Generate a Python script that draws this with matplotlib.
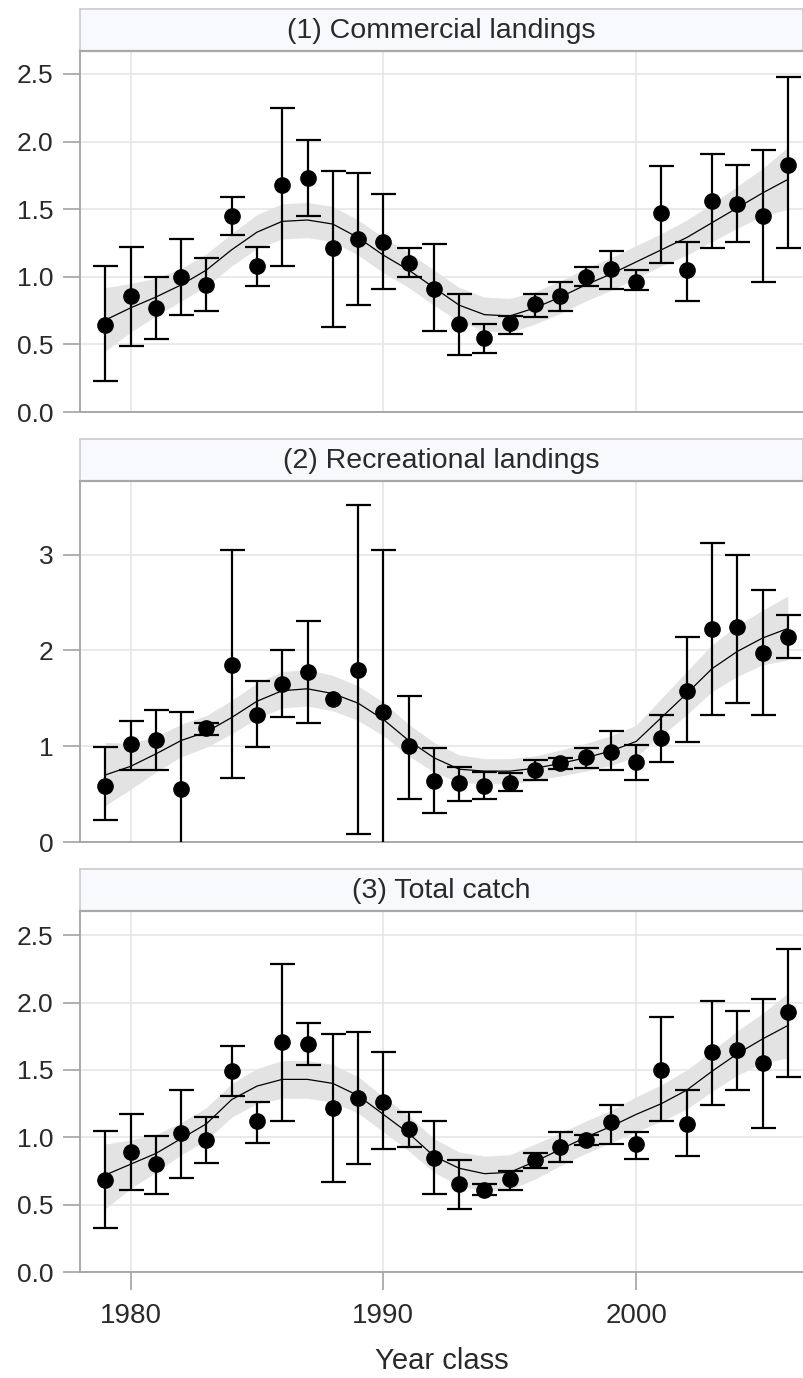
import numpy as np
import matplotlib
matplotlib.use("Agg")
import matplotlib.pyplot as plt

plt.rcParams['font.family'] = ['Liberation Sans', 'DejaVu Sans']

years = list(range(1979, 2007))
xticks = [1980, 1990, 2000]
titles = ["(1) Commercial landings", "(2) Recreational landings", "(3) Total catch"]
x_label = "Year class"

# Panel 1: commercial landings
est1 = [0.64, 0.86, 0.77, 1.00, 0.94, 1.45, 1.08, 1.68, 1.73, 1.21, 1.28, 1.26, 1.10, 0.91,
        0.65, 0.55, 0.66, 0.80, 0.86, 1.00, 1.06, 0.96, 1.47, 1.05, 1.56, 1.54, 1.45, 1.83]
lo1 = [0.23, 0.49, 0.54, 0.72, 0.75, 1.31, 0.93, 1.08, 1.45, 0.63, 0.79, 0.91, 1.00, 0.60,
       0.42, 0.44, 0.58, 0.70, 0.75, 0.93, 0.91, 0.90, 1.10, 0.82, 1.21, 1.26, 0.96, 1.21]
hi1 = [1.08, 1.22, 1.00, 1.28, 1.14, 1.59, 1.22, 2.25, 2.01, 1.78, 1.77, 1.61, 1.21, 1.24,
       0.87, 0.65, 0.71, 0.87, 0.96, 1.07, 1.19, 1.05, 1.82, 1.26, 1.91, 1.83, 1.94, 2.48]
fit1 = [0.68, 0.77, 0.85, 0.94, 1.05, 1.20, 1.33, 1.41, 1.42, 1.39, 1.29, 1.16, 1.05, 0.92,
        0.79, 0.72, 0.71, 0.77, 0.85, 0.94, 1.02, 1.11, 1.20, 1.29, 1.40, 1.51, 1.62, 1.72]
band1_lo = [0.45, 0.59, 0.71, 0.82, 0.93, 1.08, 1.21, 1.28, 1.29, 1.26, 1.16, 1.03, 0.92, 0.79,
            0.67, 0.60, 0.59, 0.65, 0.73, 0.82, 0.90, 0.99, 1.08, 1.16, 1.26, 1.36, 1.45, 1.50]
band1_hi = [0.92, 0.95, 0.99, 1.06, 1.17, 1.32, 1.46, 1.54, 1.55, 1.52, 1.42, 1.29, 1.18, 1.05,
            0.92, 0.85, 0.84, 0.89, 0.97, 1.06, 1.14, 1.23, 1.32, 1.42, 1.54, 1.67, 1.80, 1.96]

# Panel 2: recreational landings
est2 = [0.59, 1.02, 1.06, 0.55, 1.19, 1.85, 1.33, 1.65, 1.78, 1.49, 1.80, 1.36, 1.00, 0.64,
        0.62, 0.59, 0.62, 0.75, 0.82, 0.89, 0.94, 0.84, 1.09, 1.58, 2.22, 2.25, 1.97, 2.14]
lo2 = [0.23, 0.75, 0.75, -0.25, 1.12, 0.67, 0.99, 1.31, 1.24, np.nan, 0.08, -0.35, 0.45, 0.30,
       0.43, 0.45, 0.53, 0.65, 0.76, 0.77, 0.75, 0.65, 0.84, 1.04, 1.33, 1.45, 1.33, 1.92]
hi2 = [0.99, 1.26, 1.38, 1.36, 1.24, 3.05, 1.68, 2.00, 2.31, np.nan, 3.52, 3.05, 1.52, 0.98,
       0.78, 0.73, 0.72, 0.86, 0.88, 0.98, 1.16, 1.01, 1.33, 2.14, 3.12, 3.00, 2.63, 2.37]
fit2 = [0.70, 0.79, 0.92, 1.06, 1.15, 1.30, 1.47, 1.58, 1.60, 1.55, 1.45, 1.28, 1.06, 0.88,
        0.76, 0.74, 0.74, 0.77, 0.82, 0.88, 0.95, 1.05, 1.30, 1.55, 1.81, 1.99, 2.13, 2.23]
band2_lo = [0.38, 0.55, 0.73, 0.89, 0.99, 1.13, 1.29, 1.40, 1.42, 1.37, 1.27, 1.11, 0.90, 0.73,
            0.62, 0.61, 0.61, 0.64, 0.69, 0.74, 0.80, 0.89, 1.11, 1.33, 1.57, 1.73, 1.85, 1.90]
band2_hi = [1.04, 1.03, 1.10, 1.23, 1.32, 1.48, 1.66, 1.78, 1.80, 1.74, 1.63, 1.46, 1.23, 1.04,
            0.91, 0.87, 0.87, 0.90, 0.96, 1.03, 1.11, 1.22, 1.50, 1.78, 2.06, 2.26, 2.42, 2.57]

# Panel 3: total catch
est3 = [0.68, 0.89, 0.80, 1.03, 0.98, 1.49, 1.12, 1.71, 1.69, 1.22, 1.29, 1.26, 1.06, 0.85,
        0.65, 0.61, 0.69, 0.83, 0.93, 0.98, 1.11, 0.95, 1.50, 1.10, 1.63, 1.65, 1.55, 1.93]
lo3 = [0.33, 0.61, 0.58, 0.70, 0.81, 1.31, 0.96, 1.12, 1.54, 0.67, 0.80, 0.91, 0.93, 0.58,
       0.47, 0.57, 0.61, 0.77, 0.82, 0.94, 0.95, 0.84, 1.12, 0.86, 1.24, 1.35, 1.07, 1.45]
hi3 = [1.05, 1.17, 1.01, 1.35, 1.15, 1.68, 1.26, 2.29, 1.85, 1.77, 1.78, 1.63, 1.19, 1.12,
       0.83, 0.65, 0.75, 0.88, 1.04, 1.02, 1.24, 1.04, 1.89, 1.35, 2.01, 1.94, 2.03, 2.40]
fit3 = [0.72, 0.80, 0.88, 0.99, 1.10, 1.28, 1.38, 1.43, 1.43, 1.40, 1.31, 1.17, 1.03, 0.86,
        0.77, 0.73, 0.74, 0.82, 0.91, 1.00, 1.08, 1.17, 1.25, 1.35, 1.49, 1.62, 1.73, 1.83]
band3_lo = [0.47, 0.62, 0.74, 0.87, 0.98, 1.15, 1.25, 1.29, 1.29, 1.26, 1.18, 1.04, 0.90, 0.74,
            0.64, 0.60, 0.61, 0.69, 0.79, 0.88, 0.96, 1.04, 1.12, 1.21, 1.34, 1.46, 1.55, 1.59]
band3_hi = [0.95, 0.98, 1.02, 1.11, 1.22, 1.40, 1.51, 1.57, 1.57, 1.54, 1.45, 1.30, 1.16, 0.99,
            0.89, 0.86, 0.87, 0.95, 1.03, 1.12, 1.20, 1.30, 1.39, 1.50, 1.64, 1.79, 1.92, 2.07]

panels = [
    dict(est=est1, lo=lo1, hi=hi1, fit=fit1, blo=band1_lo, bhi=band1_hi,
         ylim=(0, 2.67), yticks=[0.0, 0.5, 1.0, 1.5, 2.0, 2.5], fmt="{:.1f}"),
    dict(est=est2, lo=lo2, hi=hi2, fit=fit2, blo=band2_lo, bhi=band2_hi,
         ylim=(0, 3.77), yticks=[0, 1, 2, 3], fmt="{:.0f}"),
    dict(est=est3, lo=lo3, hi=hi3, fit=fit3, blo=band3_lo, bhi=band3_hi,
         ylim=(0, 2.68), yticks=[0.0, 0.5, 1.0, 1.5, 2.0, 2.5], fmt="{:.1f}"),
]

W, H = 804, 1378
fig = plt.figure(figsize=(W / 100, H / 100), dpi=100)
fig.patch.set_facecolor('white')

# pixel layout: (strip top, axes top, axes bottom)
layout = [(9, 51, 412), (439, 481, 842), (869, 911, 1272)]
left_px, right_px = 80, 803

axis_col = '#A3A3A3'
grid_col = '#E6E6E6'
text_col = '#2A2A2A'

yrs = np.array(years, dtype=float)
for i, (p, (st, at, ab)) in enumerate(zip(panels, layout)):
    l = left_px / W
    w = (right_px - left_px) / W
    ax = fig.add_axes([l, 1 - ab / H, w, (ab - at) / H])
    sax = fig.add_axes([l, 1 - at / H, w, (at - st) / H])

    est = np.array(p['est']); lo = np.array(p['lo']); hi = np.array(p['hi'])
    ax.fill_between(yrs, p['blo'], p['bhi'], color='#E3E3E3', lw=0, zorder=1)
    ax.plot(yrs, p['fit'], color='black', lw=0.9, zorder=2)
    m = ~np.isnan(lo)
    ax.errorbar(yrs[m], est[m], yerr=[est[m] - lo[m], hi[m] - est[m]], fmt='none',
                ecolor='black', elinewidth=1.6, capsize=9, capthick=1.6, zorder=3,
                clip_on=True)
    ax.plot(yrs, est, 'o', color='black', ms=11, zorder=4, clip_on=False)

    ax.set_xlim(1978.0, 2006.6)
    ax.set_ylim(*p['ylim'])
    ax.set_yticks(p['yticks'])
    ax.set_yticklabels([p['fmt'].format(v) for v in p['yticks']])
    ax.set_xticks(xticks)
    ax.grid(True, color=grid_col, lw=1.2, zorder=0)
    ax.set_axisbelow(True)
    for s in ['top', 'right']:
        ax.spines[s].set_visible(False)
    for s in ['left', 'bottom']:
        ax.spines[s].set_color(axis_col)
        ax.spines[s].set_linewidth(1.3)
    ax.tick_params(axis='y', length=12, width=1.2, color=axis_col, pad=7,
                   labelsize=19, labelcolor=text_col)
    if i < 2:
        ax.tick_params(axis='x', length=0, labelbottom=False)
    else:
        ax.tick_params(axis='x', length=13, width=1.2, color=axis_col, pad=9,
                       labelsize=20, labelcolor=text_col)

    sax.set_facecolor('#F8F9FD')
    sax.set_xticks([]); sax.set_yticks([])
    for s in ['top', 'left', 'right']:
        sax.spines[s].set_color('#CFCFCF')
        sax.spines[s].set_linewidth(1.3)
    sax.spines['bottom'].set_color('#A8A8A8')
    sax.spines['bottom'].set_linewidth(1.6)
    sax.text(0.5, 0.47, titles[i], ha='center', va='center', fontsize=20.5,
             color=text_col, transform=sax.transAxes)

fig.text((left_px + right_px) / 2 / W, 1 - 1369 / H, x_label, ha='center',
         va='baseline', fontsize=21, color=text_col)

fig.savefig('out.png', dpi=100, facecolor='white')
